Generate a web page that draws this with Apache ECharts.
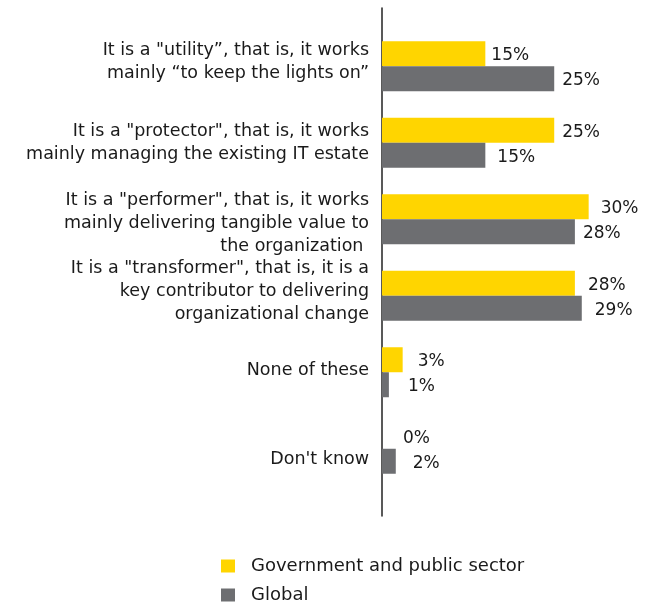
<!DOCTYPE html>
<html>
<head>
<meta charset="utf-8">
<script src="https://cdn.jsdelivr.net/npm/echarts@6/dist/echarts.min.js"></script>
<style>
  html, body { margin: 0; padding: 0; background: #fff; }
  #chart { width: 652px; height: 612px; }
</style>
</head>
<body>
<div id="chart"></div>
<script>
// Survey answers: how the IT function is seen
const categories = [
  'It is a "utility”, that is, it works\nmainly “to keep the lights on”',
  'It is a "protector", that is, it works\nmainly managing the existing IT estate',
  'It is a "performer", that is, it works\nmainly delivering tangible value to\nthe organization ',
  'It is a "transformer", that is, it is a\nkey contributor to delivering\norganizational change',
  'None of these',
  "Don't know"
];
const seriesNames = ['Government and public sector', 'Global'];
const governmentValues = [15, 25, 30, 28, 3, 0];
const globalValues = [25, 15, 28, 29, 1, 2];

const FONT = '"DejaVu Sans", sans-serif';
const TEXT = '#1a1a1a';
const COLORS = ['#FFD500', '#6D6E71'];

// gap between each bar end and its value label (px)
const governmentLabelGap = [6, 8, 12, 13, 15, 21];
const globalLabelGap = [8, 12, 8, 13, 19, 17];

// vertical nudge of each category label relative to its band centre (px, + = down)
const labelShift = [-4, 0, 4, -4, -2, 11];

// spacer rich styles: an empty line of a given height above or below the label
const spacerRich = {};
labelShift.forEach(s => {
  const h = Math.abs(s) * 2;
  if (h) spacerRich['sp' + h] = { lineHeight: h, fontSize: 1, height: h };
});
const shiftLabel = (text, i) => {
  const s = labelShift[i] || 0;
  if (!s) return text;
  const tag = '{sp' + Math.abs(s) * 2 + '| }';
  return s > 0 ? tag + '\n' + text : text + '\n' + tag;
};

const chart = echarts.init(document.getElementById('chart'), null, { renderer: 'canvas' });

const valueLabel = {
  show: true,
  position: 'right',
  offset: [0, 2],
  formatter: p => p.value + '%',
  color: TEXT,
  fontFamily: FONT,
  fontSize: 17
};

const barData = (values, gaps) =>
  values.map((v, i) => ({ value: v, label: { distance: gaps[i] } }));

// one legend block per series, stacked vertically
const legendBlock = (name, top) => ({
  left: 221,
  top: top,
  padding: 0,
  itemWidth: 14,
  itemHeight: 13,
  icon: 'rect',
  textStyle: { color: TEXT, fontFamily: FONT, fontSize: 18, padding: [0, 0, 0, 11] },
  data: [name]
});

chart.setOption({
  animation: false,
  backgroundColor: '#ffffff',
  color: COLORS,
  grid: [
    { left: 382, top: 28, width: 248, height: 459, containLabel: false },
    // taller frame only used to draw the long vertical axis line
    { left: 382, top: 8, width: 248, height: 508, containLabel: false }
  ],
  legend: [
    legendBlock(seriesNames[0], 557),
    legendBlock(seriesNames[1], 586)
  ],
  xAxis: [
    { type: 'value', gridIndex: 0, min: 0, max: 36, show: false },
    { type: 'value', gridIndex: 1, min: 0, max: 36, show: false }
  ],
  yAxis: [
    {
      type: 'category',
      gridIndex: 0,
      data: categories,
      inverse: true,
      axisLine: { show: false },
      axisTick: { show: false },
      axisLabel: {
        margin: 13,
        color: TEXT,
        fontFamily: FONT,
        fontSize: 17.5,
        lineHeight: 23,
        align: 'right',
        formatter: shiftLabel,
        rich: spacerRich
      }
    },
    {
      type: 'category',
      gridIndex: 1,
      data: [''],
      axisLine: { show: true, lineStyle: { color: '#222', width: 1.5 } },
      axisTick: { show: false },
      axisLabel: { show: false }
    }
  ],
  series: [
    {
      name: seriesNames[0],
      type: 'bar',
      xAxisIndex: 0,
      yAxisIndex: 0,
      data: barData(governmentValues, governmentLabelGap),
      barWidth: 25,
      barGap: '0%',
      itemStyle: { color: COLORS[0] },
      label: valueLabel
    },
    {
      name: seriesNames[1],
      type: 'bar',
      xAxisIndex: 0,
      yAxisIndex: 0,
      data: barData(globalValues, globalLabelGap),
      barWidth: 25,
      barGap: '0%',
      itemStyle: { color: COLORS[1] },
      label: valueLabel
    }
  ]
});
</script>
</body>
</html>
